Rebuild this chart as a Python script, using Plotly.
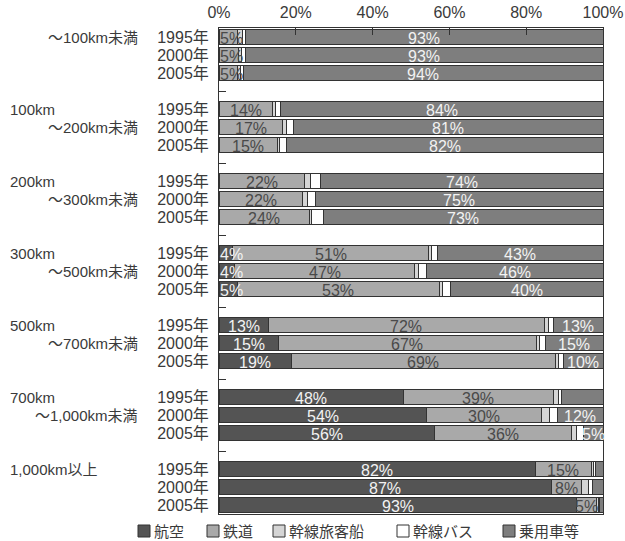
import plotly.graph_objects as go

# Distance bands (a newline splits a band name over two rows) and survey years
categories = ["～100km未満", "100km\n～200km未満", "200km\n～300km未満",
              "300km\n～500km未満", "500km\n～700km未満",
              "700km\n～1,000km未満", "1,000km以上"]
years = ["1995", "2000", "2005"]
pct_ticks = [0, 20, 40, 60, 80, 100]

series_names = ["航空", "鉄道", "幹線旅客船", "幹線バス", "乗用車等"]

# Modal shares (%) — one entry per band/year, band-major order
air = [0, 0, 0,  0, 0, 0,  0, 0, 0,  3.6, 4.0, 4.8,  12.8, 15.4, 18.9,
       48.0, 54.1, 56.0,  82.3, 86.6, 93.1]
rail = [4.8, 5.0, 4.7,  14.0, 16.6, 15.2,  22.2, 21.8, 23.6,  51.0, 47.0, 52.6,
        72.0, 67.3, 68.7,  39.0, 29.9, 35.8,  14.6, 7.8, 5.2]
ship = [1.2, 0.9, 0.8,  0.7, 0.9, 0.6,  1.5, 1.2, 0.6,  0.8, 0.9, 0.8,
        0.9, 0.8, 0.9,  1.5, 2.0, 1.2,  0.6, 1.8, 0.4]
bus = [0.9, 1.1, 0.9,  1.4, 1.9, 1.8,  2.7, 2.0, 3.0,  1.6, 2.2, 2.2,
       1.4, 1.6, 1.2,  0.8, 2.1, 1.8,  0.6, 1.0, 0.3]
car = [93.1, 93.0, 93.6,  83.9, 80.6, 82.4,  73.6, 75.0, 72.8,  43.0, 45.9, 39.6,
       12.9, 14.9, 10.3,  10.7, 11.9, 5.2,  1.9, 2.8, 1.0]

# Which segments carry a printed percentage
air_labelled = [v >= 3 for v in air]
rail_labelled = [True] * len(rail)
ship_labelled = [False] * len(ship)
bus_labelled = [False] * len(bus)
car_labelled = [True] * 15 + [False] + [True, True] + [False, False, False]

colors = ["#545454", "#a9a9a9", "#d5d5d5", "#ffffff", "#7e7e7e"]
label_colors = ["#f2f2f2", "#4a4a4a", "#4a4a4a", "#4a4a4a", "#f2f2f2"]

FONT = "Liberation Sans, Noto Sans CJK JP, sans-serif"
TEXT = "#3a3a3a"
LINE = "#333333"

# Row position of every bar: three years per band plus an empty spacer row
rows = [4 * g + k for g in range(len(categories)) for k in range(len(years))]
n_rows = 4 * len(categories) - 1

W, H = 625, 541
ML, MR, MT, MB = 219, 22, 28, 27
PW, PH = W - ML - MR, H - MT - MB


def px_to_paper_x(px):
    return (px - ML) / PW


def px_to_paper_y(py):
    return (H - MB - py) / PH


fig = go.Figure()
all_values = [air, rail, ship, bus, car]
all_masks = [air_labelled, rail_labelled, ship_labelled, bus_labelled, car_labelled]
for name, vals, col in zip(series_names, all_values, colors):
    fig.add_trace(go.Bar(
        y=rows, x=vals, name=name, orientation="h", width=0.8,
        marker=dict(color=col, line=dict(color=LINE, width=1)),
        showlegend=False, hoverinfo="skip",
    ))

annotations = []
# Percentage labels centred on their stacked segment; a narrow first segment
# gets its label pinned to the bar's left edge instead
base = [0.0] * len(rows)
for vals, mask, tcol in zip(all_values, all_masks, label_colors):
    for i, (v, m) in enumerate(zip(vals, mask)):
        if m:
            pinned = base[i] == 0 and v < 6
            annotations.append(dict(
                x=base[i] if pinned else base[i] + v / 2, xref="x",
                y=rows[i], yref="y",
                text=f"{int(v + 0.5)}%", showarrow=False,
                xanchor="left" if pinned else "center", yanchor="middle",
                xshift=-1 if pinned else 0, yshift=-1,
                font=dict(family=FONT, size=16, color=tcol),
            ))
        base[i] += v

# Distance band names beside the year labels
for g, cat in enumerate(categories):
    for i, line in enumerate(cat.split("\n")):
        right = line.startswith("～")
        annotations.append(dict(
            x=px_to_paper_x(140 if right else 8), xref="paper",
            y=4 * g + i, yref="y",
            text=line, showarrow=False,
            xanchor="right" if right else "left", yanchor="middle",
            font=dict(family=FONT, size=15, color=TEXT),
        ))

# Legend: outlined swatch followed by its name
legend_x = [138, 207, 273, 397, 503]
sw = 12
sy = 531
shapes = []
for name, col, lx in zip(series_names, colors, legend_x):
    shapes.append(dict(
        type="rect", xref="paper", yref="paper",
        x0=px_to_paper_x(lx), x1=px_to_paper_x(lx + sw),
        y0=px_to_paper_y(sy + sw / 2), y1=px_to_paper_y(sy - sw / 2),
        fillcolor=col, line=dict(color=LINE, width=1),
    ))
    annotations.append(dict(
        x=px_to_paper_x(lx + sw + 2), xref="paper",
        y=px_to_paper_y(sy), yref="paper",
        text=name, showarrow=False, xanchor="left", yanchor="middle",
        font=dict(family=FONT, size=15, color=TEXT),
    ))

fig.update_layout(
    width=W, height=H, barmode="stack",
    margin=dict(l=ML, r=MR, t=MT, b=MB, pad=0, autoexpand=False),
    paper_bgcolor="white", plot_bgcolor="white",
    font=dict(family=FONT, size=15, color=TEXT),
    showlegend=False,
    annotations=annotations, shapes=shapes,
    xaxis=dict(
        side="top", range=[0, 100], tickmode="array", tickvals=pct_ticks,
        ticktext=[f"{t}%" for t in pct_ticks], automargin=False,
        ticks="inside", ticklen=7, tickcolor=LINE, ticklabelstandoff=3,
        showline=True, linecolor=LINE, linewidth=1, mirror=True,
        showgrid=False, zeroline=False, fixedrange=True,
        tickfont=dict(family=FONT, size=16, color=TEXT),
    ),
    yaxis=dict(
        range=[n_rows - 0.5, -0.5], automargin=False,
        tickvals=rows, ticktext=[f"{y}年" for _ in categories for y in years],
        ticks="", ticklabelstandoff=6,
        showline=True, linecolor=LINE, linewidth=1, mirror=True,
        showgrid=False, zeroline=False, fixedrange=True,
        tickfont=dict(family=FONT, size=16, color=TEXT),
        minor=dict(tickvals=[4 * g + 3 for g in range(len(categories) - 1)],
                   ticks="inside", ticklen=7, tickcolor=LINE, showgrid=False),
    ),
)

fig.write_html("out.html")
